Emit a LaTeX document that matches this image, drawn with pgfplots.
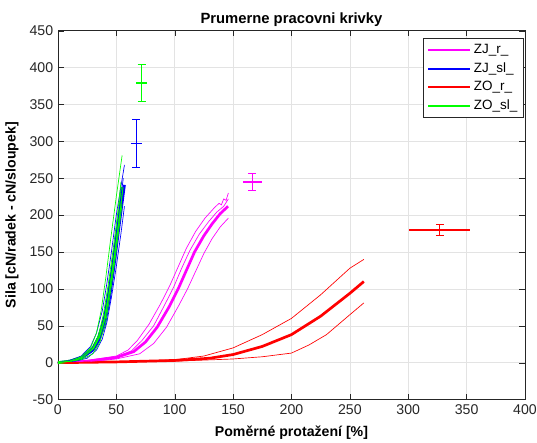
\documentclass[border=0pt]{standalone}
\usepackage{pgfplots}
\pgfplotsset{compat=1.18}
\usepackage{fontspec}
\setmainfont{Liberation Sans}
\definecolor{axgray}{rgb}{0.15,0.15,0.15}
\definecolor{cMag}{rgb}{1,0,1}
\definecolor{cBlue}{rgb}{0,0,1}
\definecolor{cRed}{rgb}{1,0,0}
\definecolor{cGreen}{rgb}{0,1,0}

\begin{document}
\begin{tikzpicture}
\begin{axis}[
    width=347pt, height=274pt, scale only axis,
    xmin=0, xmax=400, ymin=-50, ymax=450,
    xtick={0,50,...,400}, ytick={-50,0,...,450},
    grid=major,
    major grid style={gray!22, line width=0.4pt},
    axis line style={axgray, line width=0.5pt},
    tick style={axgray},
    tick label style={font=\fontsize{10.5}{12}\selectfont, text=axgray},
    /pgf/number format/assume math mode=true,
    title={\textbf{Prumerne pracovni krivky}},
    title style={font=\fontsize{11}{12}\selectfont, anchor=south, yshift=-6.5pt},
    xlabel={\textbf{Poměrné protažení [\%]}},
    ylabel={\textbf{Sila [cN/radek - cN/sloupek]}},
    label style={font=\fontsize{10.5}{12}\selectfont},
    xlabel style={at={(axis description cs:0.5,-0.089)}, anchor=center},
    ylabel style={at={(axis description cs:-0.0985,0.5)}, anchor=center},
    legend style={at={(0.997,0.98)}, anchor=north east, draw=axgray,
        font=\fontsize{10}{11}\selectfont, cells={anchor=west},
        row sep=1.2pt, inner sep=2.5pt},
    legend image code/.code={\draw[#1, line width=1.5pt] (0cm,0cm) -- (1.1cm,0cm);},
    unbounded coords=jump,
]
% mean curves
\addplot[cMag, line width=2pt] coordinates {
 (0,0) (25,2) (50,7) (65,15) (75,28) (85,48) (95,75) (103,100) (110,125)
 (117,150) (125,172) (132,188) (139,202) (145.7,212)};
\addplot[cBlue, line width=2pt] coordinates {
 (0,0) (10,2) (20,6) (30,17) (35,30) (40,52) (44,85) (48,130) (52,180) (57,241)};
\addplot[cRed, line width=2pt] coordinates {
 (0,0) (50,1) (100,3) (130,6) (150,11) (175,22) (200,38) (225,63) (250,94) (262,110)};
\addplot[cGreen, line width=2pt] coordinates {
 (0,0) (10,2) (20,7) (30,20) (35,35) (40,62) (44,100) (48,145) (52,195) (55,238)};
\legend{ZJ\_r\_, ZJ\_sl\_, ZO\_r\_, ZO\_sl\_}

% individual curves
\addplot[cMag, line width=0.5pt, forget plot] coordinates {
 (0,0) (25,3) (50,9) (60,17) (68,30) (78,52) (88,80) (96,105) (103,130)
 (110,155) (118,178) (126,196) (134,210) (138,216) (140,214) (142,222) (144,220) (146,230)};
\addplot[cMag, line width=0.5pt, forget plot] coordinates {
 (0,0) (25,2) (50,8) (63,16) (72,30) (82,50) (91,77) (99,102) (106,128)
 (113,152) (121,174) (129,191) (136,204) (142,212) (146,222)};
\addplot[cMag, line width=0.5pt, forget plot] coordinates {
 (0,0) (25,1) (50,5) (70,12) (82,26) (93,48) (103,76) (111,100) (118,124)
 (125,148) (132,168) (139,184) (146,196)};
\addplot[cBlue, line width=0.5pt, forget plot] coordinates {
 (0,0) (10,3) (20,9) (28,22) (33,40) (38,70) (42,108) (46,152) (50,200) (57,268)};
\addplot[cBlue, line width=0.5pt, forget plot] coordinates {
 (0,0) (10,2) (20,7) (29,19) (34,34) (39,60) (43,95) (47,140) (51,188) (56,250)};
\addplot[cBlue, line width=0.5pt, forget plot] coordinates {
 (0,0) (15,2) (25,6) (33,17) (38,32) (42,55) (46,90) (50,130) (54,175) (57,212)};
\addplot[cRed, line width=0.5pt, forget plot] coordinates {
 (0,0) (50,1) (100,4) (125,9) (150,20) (175,38) (200,60) (225,92) (250,128) (262,140)};
\addplot[cRed, line width=0.5pt, forget plot] coordinates {
 (0,0) (100,2) (150,5) (175,8) (200,13) (215,24) (230,38) (250,65) (262,81)};
\addplot[cGreen, line width=0.5pt, forget plot] coordinates {
 (0,0) (10,2) (20,8) (28,20) (33,40) (37,70) (41,115) (45,165) (50,225) (55,281)};
\addplot[cGreen, line width=0.5pt, forget plot] coordinates {
 (0,0) (12,2) (22,8) (30,20) (35,38) (39,66) (43,105) (47,150) (51,200) (54,245)};
\addplot[cGreen, line width=0.5pt, forget plot] coordinates {
 (0,0) (20,4) (30,12) (36,28) (41,55) (45,95) (49,140) (53,190) (55,215)};

% error bars: vertical bar, caps and horizontal spread
\addplot[cMag, line width=1pt, forget plot] coordinates {
 (166.6,233.5) (166.6,256.5) (nan,nan)
 (163.2,233.5) (170.0,233.5) (nan,nan)
 (163.2,256.5) (170.0,256.5) (nan,nan)
 (158.6,245) (174.6,245)};
\addplot[cBlue, line width=1pt, forget plot] coordinates {
 (67.2,264.5) (67.2,329.5) (nan,nan)
 (63.8,264.5) (70.6,264.5) (nan,nan)
 (63.8,329.5) (70.6,329.5) (nan,nan)
 (62.2,297) (72.2,297)};
\addplot[cRed, line width=1pt, forget plot] coordinates {
 (327,172.5) (327,187.5) (nan,nan)
 (323.6,172.5) (330.4,172.5) (nan,nan)
 (323.6,187.5) (330.4,187.5) (nan,nan)
 (301,180) (353,180)};
\addplot[cGreen, line width=1pt, forget plot] coordinates {
 (71.7,354) (71.7,404) (nan,nan)
 (68.3,354) (75.1,354) (nan,nan)
 (68.3,404) (75.1,404) (nan,nan)
 (66.7,379) (76.7,379)};
\end{axis}
\pgfresetboundingbox
\path[use as bounding box] ([shift={(-43pt,-32pt)}]current axis.south west)
  rectangle ([shift={(8.9pt,22.8pt)}]current axis.north east);
\end{tikzpicture}
\end{document}
